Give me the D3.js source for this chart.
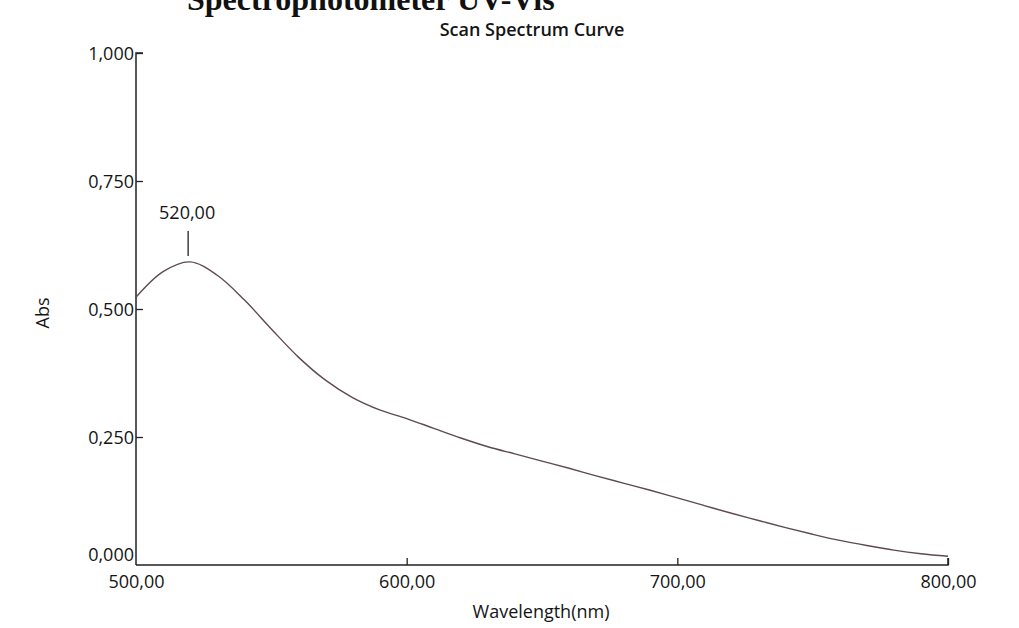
<!DOCTYPE html>
<html>
<head>
<meta charset="utf-8">
<script src="https://cdn.jsdelivr.net/npm/d3@7"></script>
<style>
  html, body { margin: 0; padding: 0; background: #fff; }
  svg { display: block; }
  svg text { font-family: "Open Sans", "Noto Sans", sans-serif; }
</style>
</head>
<body>
<svg id="chart" width="1019" height="628"></svg>
<script>
// ---- data ----
const wavelengths = [500, 510, 520, 530, 540, 550, 560, 570, 580, 590, 600, 610, 620, 630, 640, 650, 660, 670, 680, 690, 700, 710, 720, 730, 740, 750, 760, 770, 780, 790, 800];
const absValues   = [0.523, 0.573, 0.592, 0.566, 0.518, 0.461, 0.406, 0.361, 0.327, 0.303, 0.286, 0.267, 0.248, 0.231, 0.217, 0.203, 0.189, 0.174, 0.160, 0.146, 0.131, 0.116, 0.101, 0.087, 0.073, 0.060, 0.048, 0.038, 0.029, 0.022, 0.017];
const xTicks = [500, 600, 700, 800];
const yTicks = [0, 0.25, 0.5, 0.75, 1.0];
const peakWavelength = 520;
const chartTitle = "Scan Spectrum Curve";
const headerText = "Spectrophotometer UV-Vis";

const svg = d3.select("#chart");
const x = d3.scaleLinear().domain([500, 800]).range([136, 948]);
const y = d3.scaleLinear().domain([0, 1]).range([565, 53]);

const fmtX = v => d3.format(".2f")(v).replace(".", ",");
const fmtY = v => d3.format(".3f")(v).replace(".", ",");

// header (cut off at top edge, as in the reference)
svg.append("text").attr("x", 187).attr("y", 10)
  .style("font-family", "'Liberation Serif', serif").attr("font-weight", "bold")
  .attr("font-size", 32).attr("fill", "#111").text(headerText);

// title
svg.append("text").attr("x", 532).attr("y", 36).attr("text-anchor", "middle")
  .attr("font-size", 18).attr("font-weight", 600).attr("fill", "#151515").text(chartTitle);

// y axis
const yAxis = d3.axisRight(y).tickValues(yTicks).tickSize(7).tickFormat(fmtY);
const gy = svg.append("g").attr("transform", `translate(${x(500)},0)`).call(yAxis);
gy.select(".domain").attr("stroke", "#222").attr("stroke-width", 1.5).attr("d", `M7,${y(1)}H0V${y(0)}`);
gy.selectAll(".tick line").attr("stroke", "#222").attr("stroke-width", 1.3)
  .attr("display", d => d === 0 ? "none" : null);
gy.selectAll(".tick text").attr("x", -2).attr("text-anchor", "end")
  .attr("font-size", 18).attr("fill", "#151515")
  .attr("dy", d => d === 0 ? "-0.26em" : "0.34em");

// x axis
const xAxis = d3.axisBottom(x).tickValues(xTicks).tickSize(-7).tickFormat(fmtX);
const gx = svg.append("g").attr("transform", `translate(0,${y(0)})`).call(xAxis);
gx.select(".domain").attr("stroke", "#222").attr("stroke-width", 1.5).attr("d", `M${x(500)},0H${x(800)}V-7`);
gx.selectAll(".tick line").attr("stroke", "#222").attr("stroke-width", 1.3)
  .attr("display", d => d === 500 ? "none" : null);
gx.selectAll(".tick text").attr("y", 10).attr("font-size", 18).attr("fill", "#151515");

// axis titles
svg.append("text").attr("x", 541).attr("y", 618).attr("text-anchor", "middle")
  .attr("font-size", 18).attr("fill", "#151515").text("Wavelength(nm)");
svg.append("text").attr("transform", "translate(49,313) rotate(-90)").attr("text-anchor", "middle")
  .attr("font-size", 18).attr("fill", "#151515").text("Abs");

// curve
const data = wavelengths.map((w, i) => ({ w, a: absValues[i] }));
const line = d3.line().x(d => x(d.w)).y(d => y(d.a)).curve(d3.curveCatmullRom.alpha(0.5));
svg.append("path").datum(data).attr("d", line)
  .attr("fill", "none").attr("stroke", "#5f4a50").attr("stroke-width", 1.4);

// peak marker
const peakA = absValues[wavelengths.indexOf(peakWavelength)];
svg.append("line").attr("x1", x(peakWavelength) - 2).attr("x2", x(peakWavelength) - 2)
  .attr("y1", y(peakA) - 6).attr("y2", y(peakA) - 31)
  .attr("stroke", "#222").attr("stroke-width", 1.3);
svg.append("text").attr("x", x(peakWavelength) - 3).attr("y", y(peakA) - 43)
  .attr("text-anchor", "middle").attr("font-size", 18).attr("fill", "#151515")
  .text(fmtX(peakWavelength));
</script>
</body>
</html>
